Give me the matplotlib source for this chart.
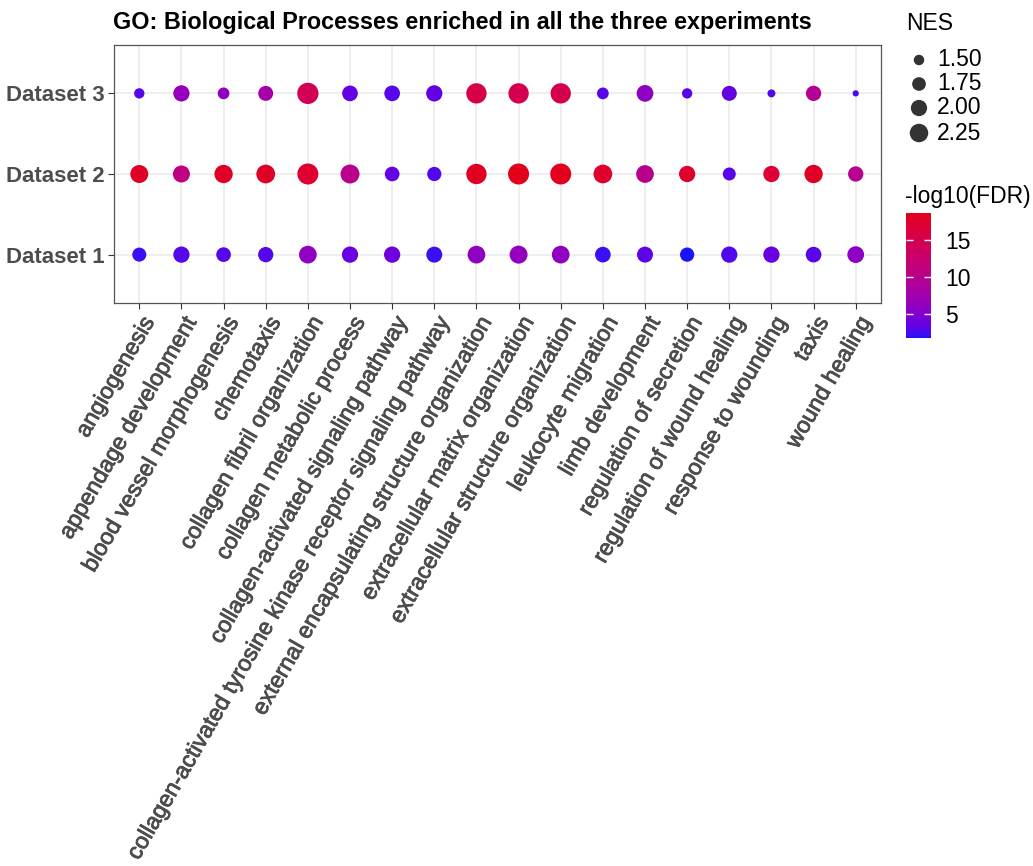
import numpy as np
import matplotlib
matplotlib.use("Agg")
import matplotlib.pyplot as plt
import matplotlib.patheffects as pe
from matplotlib.colors import ListedColormap, Normalize
from matplotlib.cm import ScalarMappable

plt.rcParams["font.family"] = ["Liberation Sans", "DejaVu Sans"]

# ---- data -------------------------------------------------------------
terms = [
    "angiogenesis",
    "appendage development",
    "blood vessel morphogenesis",
    "chemotaxis",
    "collagen fibril organization",
    "collagen metabolic process",
    "collagen-activated signaling pathway",
    "collagen-activated tyrosine kinase receptor signaling pathway",
    "external encapsulating structure organization",
    "extracellular matrix organization",
    "extracellular structure organization",
    "leukocyte migration",
    "limb development",
    "regulation of secretion",
    "regulation of wound healing",
    "response to wounding",
    "taxis",
    "wound healing",
]
datasets = ["Dataset 1", "Dataset 2", "Dataset 3"]

nes_d1 = [1.78, 2.00, 1.84, 1.90, 2.16, 2.00, 2.00, 1.97, 2.16, 2.19, 2.16, 1.94, 1.97, 1.80, 2.00, 2.00, 1.94, 2.05]
nes_d2 = [2.19, 2.08, 2.23, 2.28, 2.57, 2.31, 1.84, 1.80, 2.48, 2.57, 2.57, 2.28, 2.16, 2.00, 1.69, 2.00, 2.23, 1.90]
nes_d3 = [1.49, 2.00, 1.59, 1.87, 2.61, 1.94, 1.94, 2.00, 2.48, 2.48, 2.48, 1.59, 2.05, 1.49, 1.87, 1.35, 1.90, 1.27]

fdr_d1 = [2.3, 3.0, 3.0, 3.0, 6.0, 3.8, 4.0, 2.3, 6.0, 6.2, 6.0, 2.3, 3.3, 1.8, 2.8, 3.8, 3.1, 5.8]
fdr_d2 = [17.8, 11.0, 17.8, 17.8, 17.3, 10.2, 3.5, 2.8, 18.1, 18.6, 18.4, 17.4, 10.2, 17.4, 3.1, 16.9, 17.9, 9.9]
fdr_d3 = [3.0, 6.5, 6.0, 7.9, 14.4, 3.5, 3.0, 3.5, 15.2, 14.9, 14.9, 3.1, 6.0, 3.1, 3.5, 2.8, 9.4, 2.5]

nes_breaks = [1.50, 1.75, 2.00, 2.25]
fdr_ticks = [5, 10, 15]

title = "GO: Biological Processes enriched in all the three experiments"

# ---- low -> high gradient interpolated in CIE Lab ----------------------
_M = np.array([[0.4124564, 0.3575761, 0.1804375],
               [0.2126729, 0.7151522, 0.0721750],
               [0.0193339, 0.1191920, 0.9503041]])
_Minv = np.linalg.inv(_M)
_white = _M @ np.ones(3)
_d = 6 / 29


def _f(t):
    return np.where(t > _d ** 3, np.cbrt(t), t / (3 * _d * _d) + 4 / 29)


def _finv(t):
    return np.where(t > _d, t ** 3, 3 * _d * _d * (t - 4 / 29))


def rgb_to_lab(rgb):
    c = np.asarray(rgb, float)
    lin = np.where(c <= 0.04045, c / 12.92, ((c + 0.055) / 1.055) ** 2.4)
    x, y, z = (_M @ lin) / _white
    return np.array([116 * _f(y) - 16, 500 * (_f(x) - _f(y)), 200 * (_f(y) - _f(z))])


def lab_to_rgb(lab):
    L, a, b = lab
    fy = (L + 16) / 116
    xyz = _finv(np.array([fy + a / 500, fy, fy - b / 200])) * _white
    lin = np.clip(_Minv @ xyz, 0, 1)
    return np.clip(np.where(lin <= 0.0031308, 12.92 * lin,
                            1.055 * lin ** (1 / 2.4) - 0.055), 0, 1)


def hex_rgb(h):
    h = h.lstrip("#")
    return [int(h[i:i + 2], 16) / 255 for i in (0, 2, 4)]


lab_lo = rgb_to_lab(hex_rgb("#1a12fa"))
lab_hi = rgb_to_lab(hex_rgb("#e3001a"))
cmap = ListedColormap([lab_to_rgb(lab_lo + t * (lab_hi - lab_lo))
                       for t in np.linspace(0, 1, 256)])

all_fdr = np.concatenate([fdr_d1, fdr_d2, fdr_d3])
norm = Normalize(vmin=all_fdr.min(), vmax=all_fdr.max())


def marker_diam(nes):
    # marker diameter in points; area grows linearly with NES
    px = np.sqrt(309.0 * np.asarray(nes, float) - 353.5)
    return px * 0.72


# ---- figure -----------------------------------------------------------
W, H = 1033, 866
fig = plt.figure(figsize=(W / 100, H / 100), dpi=100)
fig.patch.set_facecolor("white")

ax = fig.add_axes([114 / W, 1 - 303 / H, (881 - 114) / W, (303 - 45) / H])
x = np.arange(len(terms))
for yi, (nes, fdr) in enumerate([(nes_d1, fdr_d1), (nes_d2, fdr_d2), (nes_d3, fdr_d3)], start=1):
    ax.scatter(x, np.full(len(x), yi), s=marker_diam(nes) ** 2, c=fdr,
               cmap=cmap, norm=norm, edgecolors="none", zorder=3)

ax.set_xlim(-0.6, len(terms) - 0.4)
ax.set_ylim(0.4, 3.6)
ax.set_xticks(x)
ax.set_xticklabels(terms, rotation=60, ha="right", va="top",
                   rotation_mode="anchor", fontsize=16.5, color="#4d4d4d")
ax.set_yticks([1, 2, 3])
ax.set_yticklabels(datasets, fontsize=16.0, fontweight="bold", color="#4d4d4d")
heavy = [pe.withStroke(linewidth=0.6, foreground="#4d4d4d")]
for lbl in ax.get_xticklabels():
    lbl.set_path_effects(heavy)
ax.tick_params(axis="both", length=4, width=0.8, color="#333333", pad=3)
ax.grid(True, color="#ebebeb", linewidth=1.2, zorder=0)
ax.set_axisbelow(True)
for sp in ax.spines.values():
    sp.set_color("#555555")
    sp.set_linewidth(0.9)

fig.text(113 / W, 1 - 23 / H, title, ha="left", va="center",
         fontsize=16.8, fontweight="bold", color="black")

# ---- size legend ------------------------------------------------------
leg = fig.add_axes([0, 0, 1, 1], facecolor="none")
leg.set_xlim(0, W)
leg.set_ylim(H, 0)
leg.axis("off")
leg.text(906, 23, "NES", ha="left", va="center", fontsize=16.5, color="black")
for yy, b in zip([60, 84, 108, 133], nes_breaks):
    leg.scatter([919], [yy], s=marker_diam(b) ** 2, color="#333333", edgecolors="none")
    leg.text(937, yy, f"{b:.2f}", ha="left", va="center", fontsize=16.5, color="black")

# ---- colour bar -------------------------------------------------------
leg.text(905, 197, "-log10(FDR)", ha="left", va="center", fontsize=16.5, color="black")
cax = fig.add_axes([906 / W, 1 - 338 / H, 25 / W, 125 / H])
cb = fig.colorbar(ScalarMappable(norm=norm, cmap=cmap), cax=cax)
cb.outline.set_visible(False)
cb.set_ticks(fdr_ticks)
cax.tick_params(direction="in", length=5, width=1, color="white",
                left=True, right=True, labelleft=False, labelright=True,
                labelsize=16.5, pad=10)

fig.savefig("out.png", dpi=100, facecolor="white")
